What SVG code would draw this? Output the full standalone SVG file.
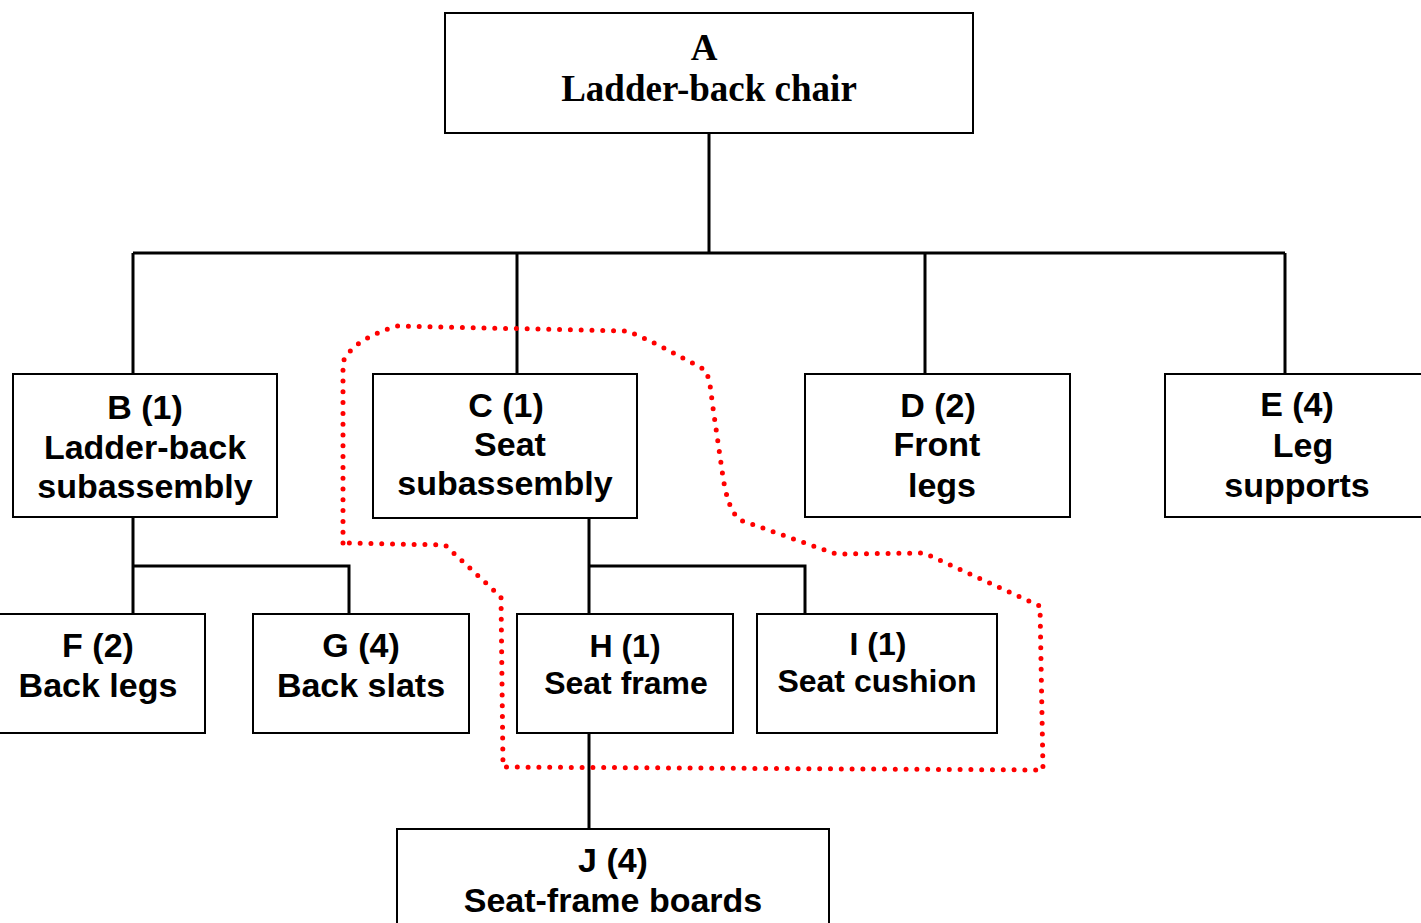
<svg xmlns="http://www.w3.org/2000/svg" width="1421" height="923" viewBox="0 0 1421 923">
<style>
.box{fill:#fff;stroke:#000;stroke-width:2}
.t{font-family:"Liberation Sans",Arial,sans-serif;font-weight:bold;font-size:34px;text-anchor:middle;fill:#000}
.s{font-size:32px}
.sr{font-family:"Liberation Serif","Times New Roman",serif;font-weight:bold;font-size:37px;text-anchor:middle;fill:#000}
.c{fill:none;stroke:#000;stroke-width:3}
.dot{fill:none;stroke:#f00;stroke-width:5;stroke-linecap:round;stroke-dasharray:0 10.8}
</style>
<rect width="1421" height="923" fill="#fff"/>
<g id="connectors">
<path class="c" d="M709,133V253M133,253H1285M133,253V374M517,253V374M925,253V374M1285,253V374"/>
<path class="c" d="M133,517V614M133,566H349V614"/>
<path class="c" d="M589,518V614M589,566H805V614"/>
<path class="c" d="M589,733V829"/>
</g>
<g id="nodeA"><rect class="box" x="445" y="13" width="528" height="120"/>
<text class="sr" x="704" y="60">A</text><text class="sr" x="709" y="101">Ladder-back chair</text></g>
<g id="nodeB"><rect class="box" x="13" y="374" width="264" height="143"/>
<text class="t" x="145" y="419">B (1)</text><text class="t" x="145" y="459">Ladder-back</text><text class="t" x="145" y="498">subassembly</text></g>
<g id="nodeC"><rect class="box" x="373" y="374" width="264" height="144"/>
<text class="t" x="506" y="417">C (1)</text><text class="t" x="510" y="456">Seat</text><text class="t" x="505" y="495">subassembly</text></g>
<g id="nodeD"><rect class="box" x="805" y="374" width="265" height="143"/>
<text class="t" x="938" y="417">D (2)</text><text class="t" x="937" y="456">Front</text><text class="t" x="942" y="497">legs</text></g>
<g id="nodeE"><rect class="box" x="1165" y="374" width="270" height="143"/>
<text class="t" x="1297" y="416">E (4)</text><text class="t" x="1303" y="457">Leg</text><text class="t" x="1297" y="497">supports</text></g>
<g id="nodeF"><rect class="box" x="-2" y="614" width="207" height="119"/>
<text class="t" x="98" y="657">F (2)</text><text class="t" x="98" y="697">Back legs</text></g>
<g id="nodeG"><rect class="box" x="253" y="614" width="216" height="119"/>
<text class="t" x="361" y="657">G (4)</text><text class="t" x="361" y="697">Back slats</text></g>
<g id="nodeH"><rect class="box" x="517" y="614" width="216" height="119"/>
<text class="t s" x="625" y="657">H (1)</text><text class="t s" x="626" y="694">Seat frame</text></g>
<g id="nodeI"><rect class="box" x="757" y="614" width="240" height="119"/>
<text class="t s" x="878" y="655">I (1)</text><text class="t s" x="877" y="692">Seat cushion</text></g>
<g id="nodeJ"><rect class="box" x="397" y="829" width="432" height="110"/>
<text class="t" x="613" y="872">J (4)</text><text class="t" x="613" y="912">Seat-frame boards</text></g>
<path id="boundary" class="dot" d="M343,543V362Q352,340 397,326L625,331Q640,334 705,370Q710,378 712,401L722,470Q727,510 740,520L836,554L924,553L1040,606L1043,770L503,767L501,597L445,545Z"/>
</svg>
